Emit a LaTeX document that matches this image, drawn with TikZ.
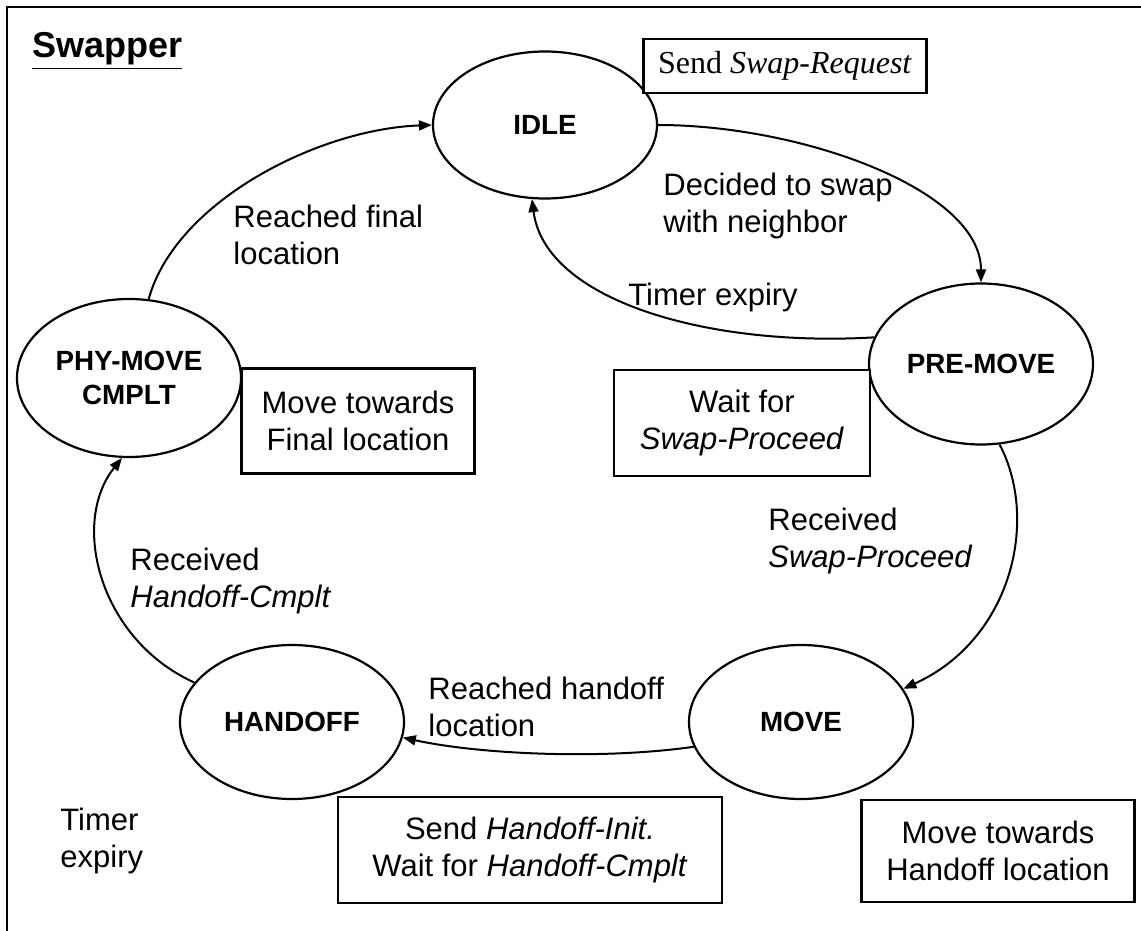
\documentclass[tikz,border=0pt]{standalone}
\usepackage{fontspec}
\setmainfont{Liberation Sans}
\newfontfamily\serifrm{Liberation Serif}
\usetikzlibrary{shapes.geometric,arrows.meta}

\begin{document}
\begin{tikzpicture}[x=0.5pt,y=-0.5pt,
            font=\fontsize{15.5}{18.5}\selectfont,
            state/.style={ellipse,draw,line width=1.1pt,minimum width=112pt,
                minimum height=#1,inner sep=0pt,align=center,
                font=\fontsize{13.9}{17}\selectfont\bfseries},
            state/.default=77pt,
            action/.style={draw,fill=white,line width=1.1pt,align=center,inner sep=0pt},
            lbl/.style={anchor=west,align=left,inner sep=0pt},
            trans/.style={line width=1pt,-{Triangle[length=6.5pt,width=5pt]}}
        ]
        \useasboundingbox (0,0) rectangle (1141,931);
        \draw[line width=1.3pt] (7,931) -- (7,7) -- (1141,7);
        \node[anchor=base west,inner sep=0pt,font=\fontsize{18}{20}\selectfont\bfseries]
            (title) at (32,58) {\underline{Swapper}};
        % states
        \node[state=73.5pt] (idle)    at (545,125) {IDLE};
        \node[state=80.5pt] (premove) at (981,364) {PRE-MOVE};
        \node[state]        (move)    at (801,722) {MOVE};
        \node[state]        (handoff) at (292,722) {HANDOFF};
        \node[state=79pt]   (phymove) at (129,378) {PHY-MOVE\\CMPLT};
        % actions
        \node[action,minimum width=141.5pt,minimum height=27pt,
            font=\fontsize{16}{19}\serifrm] (sendreq) at (785,66) {Send \textit{Swap-Request}};
        \node[action,minimum width=128pt,minimum height=53pt]
            (waitproc) at (742,423) {Wait for\\\textit{Swap-Proceed}};
        \node[action,minimum width=116.5pt,minimum height=52.5pt]
            (movefinal) at (358,421) {Move towards\\Final location};
        \node[action,minimum width=192pt,minimum height=53pt]
            (sendinit) at (530,850) {Send \textit{Handoff-Init.}\\Wait for \textit{Handoff-Cmplt}};
        \node[action,minimum width=136.5pt,minimum height=51pt]
            (movehand) at (998,851) {Move towards\\Handoff location};
        % transitions
        \draw[trans] (idle.east) .. controls +(143,0) and +(0,-93) .. (premove.north);
        \draw[trans] (premove.166) .. controls +(-167,10) and +(13,101) .. (idle.260);
        \draw[trans] (premove.283) .. controls +(40,76) and +(108,-49) .. (move.18);
        \draw[trans] (move.193) .. controls +(-90,13) and +(78,17) .. (handoff.352);
        \draw[trans] (handoff.158) .. controls +(-95,-43) and +(-52,65) .. (phymove.265);
        \draw[trans] (phymove.76) .. controls +(27,-98) and +(-113,4) .. (idle.west);
        % labels
        \node[lbl] (decided)  at (663,206) {Decided to swap\\with neighbor};
        \node[lbl] (timeout1) at (628,297) {Timer expiry};
        \node[lbl] (gotproc)  at (768,541) {Received\\\textit{Swap-Proceed}};
        \node[lbl] (reachho)  at (428,707) {Reached handoff\\location};
        \node[lbl] (gotcmplt) at (130,581) {Received\\\textit{Handoff-Cmplt}};
        \node[lbl] (reachfin) at (233,235) {Reached final\\location};
        \node[lbl] (timeout2) at (60,841)  {Timer\\expiry};
    \end{tikzpicture}
\end{document}
